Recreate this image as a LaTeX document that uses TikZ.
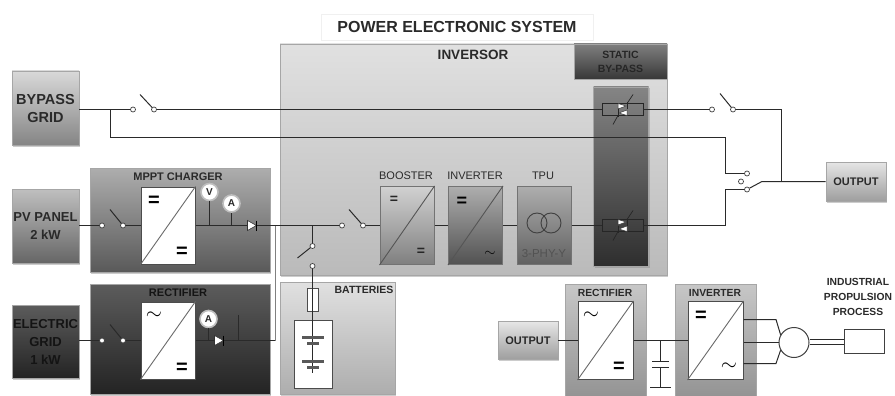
\documentclass[tikz,border=0pt]{standalone}
\usepackage{fontspec}
\setmainfont{Liberation Sans}
\usetikzlibrary{shadows}

\definecolor{inkgray}{HTML}{2A2A2A}
\definecolor{wiregray}{HTML}{2A2A2A}

\tikzset{
  panel/.style={draw=gray!70, line width=0.8pt, inner sep=0pt, drop shadow={shadow xshift=1pt, shadow yshift=-1.5pt, opacity=0.4}},
  darkbox/.style={panel, top color=black!64, bottom color=black!86},
  conv/.style={draw=black!70, line width=1pt, fill=white, inner sep=0pt, minimum width=54pt, minimum height=77pt},
  term/.style={circle, draw=black!75, fill=white, line width=0.7pt, inner sep=0pt, minimum size=5pt},
  meter/.style={circle, draw=black!25, line width=1.6pt, fill=white, inner sep=0pt, minimum size=17pt, font=\bfseries\fontsize{10}{10}\selectfont, text=inkgray},
  wire/.style={draw=wiregray, line width=1pt},
  lbl/.style={font=\bfseries\fontsize{11}{13}\selectfont, text=inkgray, align=center, inner sep=0pt},
  thinlbl/.style={font=\fontsize{11}{13}\selectfont, text=inkgray, align=center, inner sep=0pt},
  sourcelbl/.style={lbl, font=\bfseries\fontsize{13}{18}\selectfont},
  sym/.style={font=\bfseries\fontsize{20}{20}\selectfont, text=black, inner sep=0pt},
  smallsym/.style={font=\bfseries\fontsize{14}{14}\selectfont, text=black!85, inner sep=0pt},
}

% thyristor pair of the static by-pass
\newcommand{\scrpair}[2]{%
  \node[draw=black!85, line width=0.9pt, inner sep=0pt, minimum width=41pt, minimum height=12pt] (#1) at (622.5,#2) {};
  \draw[black!80, fill=white, line width=0.5pt] (618,#2-6) -- (618,#2-0.5) -- (626,#2-3.5) -- cycle;
  \draw[black!80, fill=white, line width=0.5pt] (627,#2+6) -- (627,#2+0.5) -- (619,#2+3.5) -- cycle;
  \draw[black!85, line width=0.9pt] (627,#2-7) -- (627,#2) (618,#2) -- (618,#2+7);
  \draw[black!85, line width=0.7pt] (627,#2-6) -- (633,#2-15) (618,#2+6) -- (613,#2+15);
}
% diode on a wire
\newcommand{\diodesym}[2]{%
  \draw[black!80, fill=white, line width=0.6pt] (#1-5,#2-5) -- (#1-5,#2+5) -- (#1+4,#2) -- cycle;
  \draw[black, line width=1pt] (#1+4,#2-5) -- (#1+4,#2+5);
}

\begin{document}
\begin{tikzpicture}[x=1pt,y=-1pt]
  \useasboundingbox (0,0) rectangle (895,396);

  % Title
  \node[fill=white, draw=black!6, minimum width=272pt, minimum height=26pt, inner sep=0pt, font=\bfseries\fontsize{16}{16}\selectfont, text=inkgray] (title) at (457,27) {POWER ELECTRONIC SYSTEM};

  % Inversor
  \node[panel, top color=black!12, bottom color=black!27, minimum width=387pt, minimum height=231pt] (inversor) at (473.5,159.5) {};
  \node[lbl, font=\bfseries\fontsize{13.5}{13.5}\selectfont] (inversortxt) at (473,55) {INVERSOR};
  \node[panel, top color=black!50, bottom color=black!78, minimum width=93pt, minimum height=35pt] (static) at (620.5,61.5) {};
  \node[lbl, font=\bfseries\fontsize{10.5}{14}\selectfont, text=black!85] (statictxt) at (620.5,61.5) {STATIC\\BY-PASS};
  \node[panel, top color=black!48, bottom color=black!82, minimum width=55pt, minimum height=179pt] (column) at (621,176.5) {};

  % Sources
  \node[panel, top color=black!15, bottom color=black!48, minimum width=67pt, minimum height=74pt] (bypass) at (45.5,108) {};
  \node[sourcelbl, font=\bfseries\fontsize{14.5}{18}\selectfont] (bypasstxt) at (45.5,109) {BYPASS\\GRID};
  \node[panel, top color=black!25, bottom color=black!60, minimum width=67pt, minimum height=74pt] (pv) at (45.5,226) {};
  \node[sourcelbl] (pvtxt) at (45.5,226) {PV PANEL\\2 kW};
  \node[darkbox, minimum width=67pt, minimum height=73pt] (elec) at (45.5,341.5) {};
  \node[sourcelbl, text=black!92] (electxt) at (45.5,341.5) {ELECTRIC\\GRID\\1 kW};

  % Charger and rectifier blocks
  \node[panel, top color=black!32, bottom color=black!65, minimum width=180pt, minimum height=104pt] (mppt) at (180,220) {};
  \node[lbl] (mppttxt) at (178,176.5) {MPPT CHARGER};
  \node[darkbox, minimum width=180pt, minimum height=110pt] (rect) at (180,339) {};
  \node[lbl, text=black!92] (recttxt) at (178,293) {RECTIFIER};
  \node[conv] (mpptconv) at (168,225.5) {};
  \draw[wiregray!70, line width=0.9pt] (mpptconv.south west) -- (mpptconv.north east);
  \node[sym] at (154,201) {=};
  \node[sym] at (182,252) {=};
  \node[conv] (rectconv) at (168,340.5) {};
  \draw[wiregray!70, line width=0.9pt] (rectconv.south west) -- (rectconv.north east);
  \node[sym] at (154,316) {$\sim$};
  \node[sym] at (182,368) {=};

  % Batteries
  \node[panel, top color=black!12, bottom color=black!32, minimum width=115pt, minimum height=112pt] (batt) at (337.5,338) {};
  \node[lbl, font=\bfseries\fontsize{10.5}{10.5}\selectfont] (batttxt) at (364,289.5) {BATTERIES};
  \node[draw=black!70, line width=1pt, fill=white, minimum width=38pt, minimum height=68pt, inner sep=0pt] (cells) at (313,354) {};
  \node[draw=black!70, line width=1pt, fill=white, minimum width=11pt, minimum height=23pt, inner sep=0pt] (fuse) at (312.5,299.5) {};

  % Inversor chain
  \node[conv, draw=black!55, top color=black!18, bottom color=black!50, minimum height=78pt] (booster) at (407,225.5) {};
  \node[conv, draw=black!55, top color=black!32, bottom color=black!68, minimum height=78pt] (inverter) at (475.5,225.5) {};
  \node[conv, draw=black!55, top color=black!32, bottom color=black!62, minimum height=78pt] (tpu) at (544,225.5) {};
  \draw[wiregray!80, line width=0.9pt] (booster.south west) -- (booster.north east);
  \draw[wiregray!80, line width=0.9pt] (inverter.south west) -- (inverter.north east);
  \node[thinlbl] (boostertxt) at (406,176) {BOOSTER};
  \node[thinlbl] (invertertxt) at (475,176) {INVERTER};
  \node[thinlbl] (tputxt) at (543,176) {TPU};
  \node[smallsym] at (394,200) {=};
  \node[smallsym] at (421,252) {=};
  \node[sym, font=\bfseries\fontsize{18}{18}\selectfont] at (462,202) {=};
  \node[sym, font=\bfseries\fontsize{14}{14}\selectfont] at (490,254) {$\sim$};
  \draw[black!75, line width=0.9pt] (537,223) circle (10pt) (551,223) circle (10pt);
  \node[thinlbl, font=\fontsize{11.5}{11.5}\selectfont, text=black!68] (tpukind) at (544,254) {3-PHY-Y};

  % Thyristors
  \scrpair{scrtop}{109.5}
  \scrpair{scrlow}{225.5}

  % Terminals
  \node[term] (sbypa) at (133,109.5) {};
  \node[term] (sbypb) at (154,109.5) {};
  \node[term] (spva) at (102,225.5) {};
  \node[term] (spvb) at (123,225.5) {};
  \node[term] (sgrida) at (102,340.5) {};
  \node[term] (sgridb) at (123,340.5) {};
  \node[term] (sinva) at (342,225.5) {};
  \node[term] (sinvb) at (363,225.5) {};
  \node[term] (sbatta) at (312.5,246) {};
  \node[term] (sbattb) at (312.5,266) {};
  \node[term] (souta) at (712,109.5) {};
  \node[term] (soutb) at (733,109.5) {};
  \node[term] (supa) at (747,173.5) {};
  \node[term] (supm) at (741,181.5) {};
  \node[term] (supb) at (747,189.5) {};

  % Output
  \node[panel, top color=black!10, bottom color=black!38, minimum width=60pt, minimum height=39pt] (output) at (856,181.5) {};
  \node[lbl] at (856,181.5) {OUTPUT};

  % Junction points
  \coordinate (jtop) at (781.5,109.5);
  \coordinate (jout) at (781.5,181.5);
  \coordinate (jmid) at (762,181.5);
  \coordinate (jbyp) at (110.5,109.5);
  \coordinate (jret) at (725.5,137.5);
  \coordinate (jlow) at (725.5,225.5);
  \coordinate (jbus) at (312.5,225.5);
  \coordinate (jrect) at (275.5,340.5);

  % Upper wires
  \draw[wire] (bypass.east |- sbypa) -- (sbypa);
  \draw[wire] (sbypb) -- (scrtop.west);
  \draw[wire] (scrtop.east) -- (souta);
  \draw[wire] (soutb) -- (jtop) -- (jout);
  \draw[wire] (jbyp) |- (jret) -- (jret |- supa) -- (supa);
  \draw[wire] (supb) -- (jlow |- supb) -- (jlow) -- (scrlow.east);
  \draw[wire] (supb) -- (jmid) -- (output.west);

  % PV and grid wires
  \draw[wire] (pv.east |- spva) -- (spva);
  \draw[wire] (spvb) -- (mpptconv.west |- spvb);
  \draw[wire] (mpptconv.east) -- (sinva);
  \draw[wire] (elec.east |- sgrida) -- (sgrida);
  \draw[wire] (sgridb) -- (rectconv.west |- sgridb);
  \draw[wire] (rectconv.east) -- (jrect);
  \draw[draw=black!50, line width=0.8pt] (jrect) -- (jrect |- jbus);

  % Meters
  \node[meter] (mv) at (209.5,192) {V};
  \node[meter] (ma) at (231.5,203.5) {A};
  \node[meter] (mr) at (208.5,319) {A};
  \draw[wire] (mv) -- (mv |- mpptconv.east);
  \draw[wire] (ma) -- (ma |- mpptconv.east);
  \draw[wire] (mr) -- (mr |- jrect);
  \draw[wire] (238.5,315) -- (238.5,340.5);
  \diodesym{252.5}{225.5}
  \diodesym{219.5}{340.5}

  % Battery branch
  \draw[wire] (jbus) -- (sbatta);
  \draw[wire] (sbattb) -- (fuse.north);
  \draw[wire] (fuse.north) -- (312.5,373);
  \foreach \yy in {337,361} {
    \fill[black!65] (302,\yy-1.5) rectangle (324,\yy+1.5);
    \fill[black!65] (307,\yy+5) rectangle (319,\yy+8);
  }

  % Inversor chain wires
  \draw[wire] (sinvb) -- (booster.west |- sinvb);
  \draw[wire] (booster.east) -- (inverter.west);
  \draw[wire] (inverter.east) -- (tpu.west);
  \draw[wire] (tpu.east) -- (scrlow.west);

  % Switch blades
  \draw[wire] (sbypb) -- +(-14,-15);
  \draw[wire] (spvb) -- +(-13,-16);
  \draw[wire] (sgridb) -- +(-13,-16);
  \draw[wire] (sinvb) -- +(-14,-16);
  \draw[wire] (sbatta) -- +(-15,12);
  \draw[wire] (soutb) -- +(-13,-16);

  % Lower chain
  \node[panel, top color=black!10, bottom color=black!38, minimum width=60pt, minimum height=38pt] (outlow) at (528,340.5) {};
  \node[lbl] at (528,340.5) {OUTPUT};
  \node[panel, top color=black!22, bottom color=black!42, minimum width=81pt, minimum height=112pt] (rectlow) at (605.5,340) {};
  \node[lbl, font=\bfseries\fontsize{10.3}{10.3}\selectfont] at (605,293) {RECTIFIER};
  \node[conv, minimum width=55pt, minimum height=78pt] (rectlowconv) at (605.5,340.5) {};
  \draw[wiregray!70, line width=0.9pt] (rectlowconv.south west) -- (rectlowconv.north east);
  \node[sym] at (591,316) {$\sim$};
  \node[sym] at (619,367) {=};
  \node[panel, top color=black!22, bottom color=black!42, minimum width=81pt, minimum height=112pt] (invlow) at (715.5,340) {};
  \node[lbl, font=\bfseries\fontsize{10.3}{10.3}\selectfont] at (715,293) {INVERTER};
  \node[conv, minimum width=55pt, minimum height=78pt] (invlowconv) at (715.5,340.5) {};
  \draw[wiregray!70, line width=0.9pt] (invlowconv.south west) -- (invlowconv.north east);
  \node[sym] at (701,316) {=};
  \node[sym] at (729,367) {$\sim$};
  \draw[wire] (outlow.east) -- (rectlowconv.west);
  \draw[wire] (rectlowconv.east) -- (invlowconv.west);

  % Capacitor
  \coordinate (captop) at (660.5,340.5);
  \coordinate (capbot) at (660.5,387.5);
  \draw[wire] (captop) -- (660.5,361.5) (660.5,367.5) -- (capbot);
  \draw[wire] (652,361.5) -- (669,361.5) (652,367.5) -- (669,367.5);
  \draw[wire] (650,387.5) -- (671,387.5);

  % Motor and process
  \node[circle, draw=black!75, fill=white, line width=1pt, minimum size=30pt, inner sep=0pt] (motor) at (794,342.5) {};
  \node[draw=black!75, fill=white, line width=1pt, minimum width=40pt, minimum height=24pt, inner sep=0pt] (process) at (864,341) {};
  \draw[wire] (invlowconv.east |- 0,319.5) -- (776,319.5) -- (motor.150);
  \draw[wire] (invlowconv.east |- motor) -- (motor.west);
  \draw[wire] (invlowconv.east |- 0,363.5) -- (776,363.5) -- (motor.210);
  \draw[wire] (motor.east |- 0,339.5) -- (process.west |- 0,339.5);
  \draw[wire] (motor.east |- 0,344.5) -- (process.west |- 0,344.5);
  \node[lbl, font=\bfseries\fontsize{10.3}{14.7}\selectfont] (processtxt) at (858,297) {INDUSTRIAL\\PROPULSION\\PROCESS};
\end{tikzpicture}
\end{document}
